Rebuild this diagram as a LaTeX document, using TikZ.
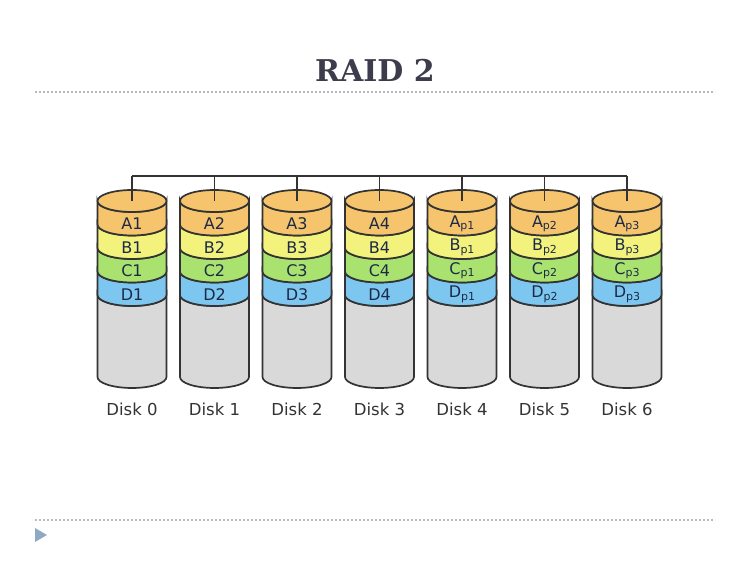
\documentclass[tikz,border=0pt]{standalone}
\usepackage{fontspec}
\setmainfont{DejaVu Sans}
\newfontfamily\titlefont{DejaVu Serif}
\usetikzlibrary{calc}
\definecolor{rdA}{HTML}{F5C46C}
\definecolor{rdB}{HTML}{F2F27C}
\definecolor{rdC}{HTML}{A9E26E}
\definecolor{rdD}{HTML}{7DC6F0}
\definecolor{rdE}{HTML}{D9D9D9}
\definecolor{rdLine}{HTML}{333333}
\definecolor{rdText}{HTML}{1C2A48}
\definecolor{rdTitle}{HTML}{3C3C4C}
\definecolor{rdRule}{HTML}{B4BAC1}
\definecolor{rdMark}{HTML}{8EA9C1}
\tikzset{
  disk/.style={draw=rdLine, line width=1.7pt},
  bus/.style={draw=rdLine, line width=1.3pt},
  bandtext/.style={font=\fontsize{16}{16}\selectfont, text=rdText, inner sep=0pt},
  disktext/.style={font=\fontsize{16.5}{16.5}\selectfont, text=rdLine, inner sep=0pt},
  titletext/.style={font=\titlefont\bfseries\fontsize{30}{30}\selectfont, text=rdTitle, inner sep=0pt},
  ruler/.style={draw=rdRule, line width=1.1pt, dash pattern=on 2pt off 2pt}
}
% one band of a disk: centre x, top y, bottom y, fill
\newcommand{\diskband}[4]{%
  \filldraw[disk, fill=#4] (#1-34.5,#2) arc[start angle=180, end angle=360, x radius=34.5pt, y radius=11pt]
    -- (#1+34.5,#3) arc[start angle=0, end angle=-180, x radius=34.5pt, y radius=11pt] -- cycle;}
\newcommand{\parsub}[1]{\raisebox{-2.5pt}{\fontsize{11}{11}\selectfont p#1}}
\begin{document}
\begin{tikzpicture}[x=1pt,y=1pt]
  \useasboundingbox (0,0) rectangle (750,561);
  % title and page rules
  \node[titletext] (title) at (375,491) {RAID 2};
  \draw[ruler] (35,469) -- (715,469);
  \draw[ruler] (35,41) -- (715,41);
  \fill[rdMark] (35,33) -- (47,26) -- (35,19) -- cycle;
  % the seven disks
  \foreach \i/\a/\b/\c/\d in {0/A1/B1/C1/D1, 1/A2/B2/C2/D2, 2/A3/B3/C3/D3, 3/A4/B4/C4/D4,
      4/{A\parsub{1}}/{B\parsub{1}}/{C\parsub{1}}/{D\parsub{1}},
      5/{A\parsub{2}}/{B\parsub{2}}/{C\parsub{2}}/{D\parsub{2}},
      6/{A\parsub{3}}/{B\parsub{3}}/{C\parsub{3}}/{D\parsub{3}}} {
    \pgfmathsetmacro{\cx}{132+82.5*\i}
    \diskband{\cx}{266}{184}{rdE}
    \diskband{\cx}{289.5}{266}{rdD}
    \diskband{\cx}{313}{289.5}{rdC}
    \diskband{\cx}{336.5}{313}{rdB}
    \diskband{\cx}{360}{336.5}{rdA}
    \filldraw[disk, fill=rdA] (\cx,360) ellipse[x radius=34.5pt, y radius=11pt];
    \coordinate (top\i) at (\cx,360);
    \coordinate (bus\i) at (\cx,385);
    \node[bandtext] (a\i) at (\cx,337.25) {\a};
    \node[bandtext] (b\i) at (\cx,313.75) {\b};
    \node[bandtext] (c\i) at (\cx,290.25) {\c};
    \node[bandtext] (d\i) at (\cx,266.75) {\d};
    \node[disktext] (disk\i) at (\cx,152) {Disk \i};
  }
  % controller bus
  \draw[bus] (bus0) -- (bus6);
  \foreach \i in {0,...,6} \draw[bus] (bus\i) -- (top\i);
\end{tikzpicture}
\end{document}
